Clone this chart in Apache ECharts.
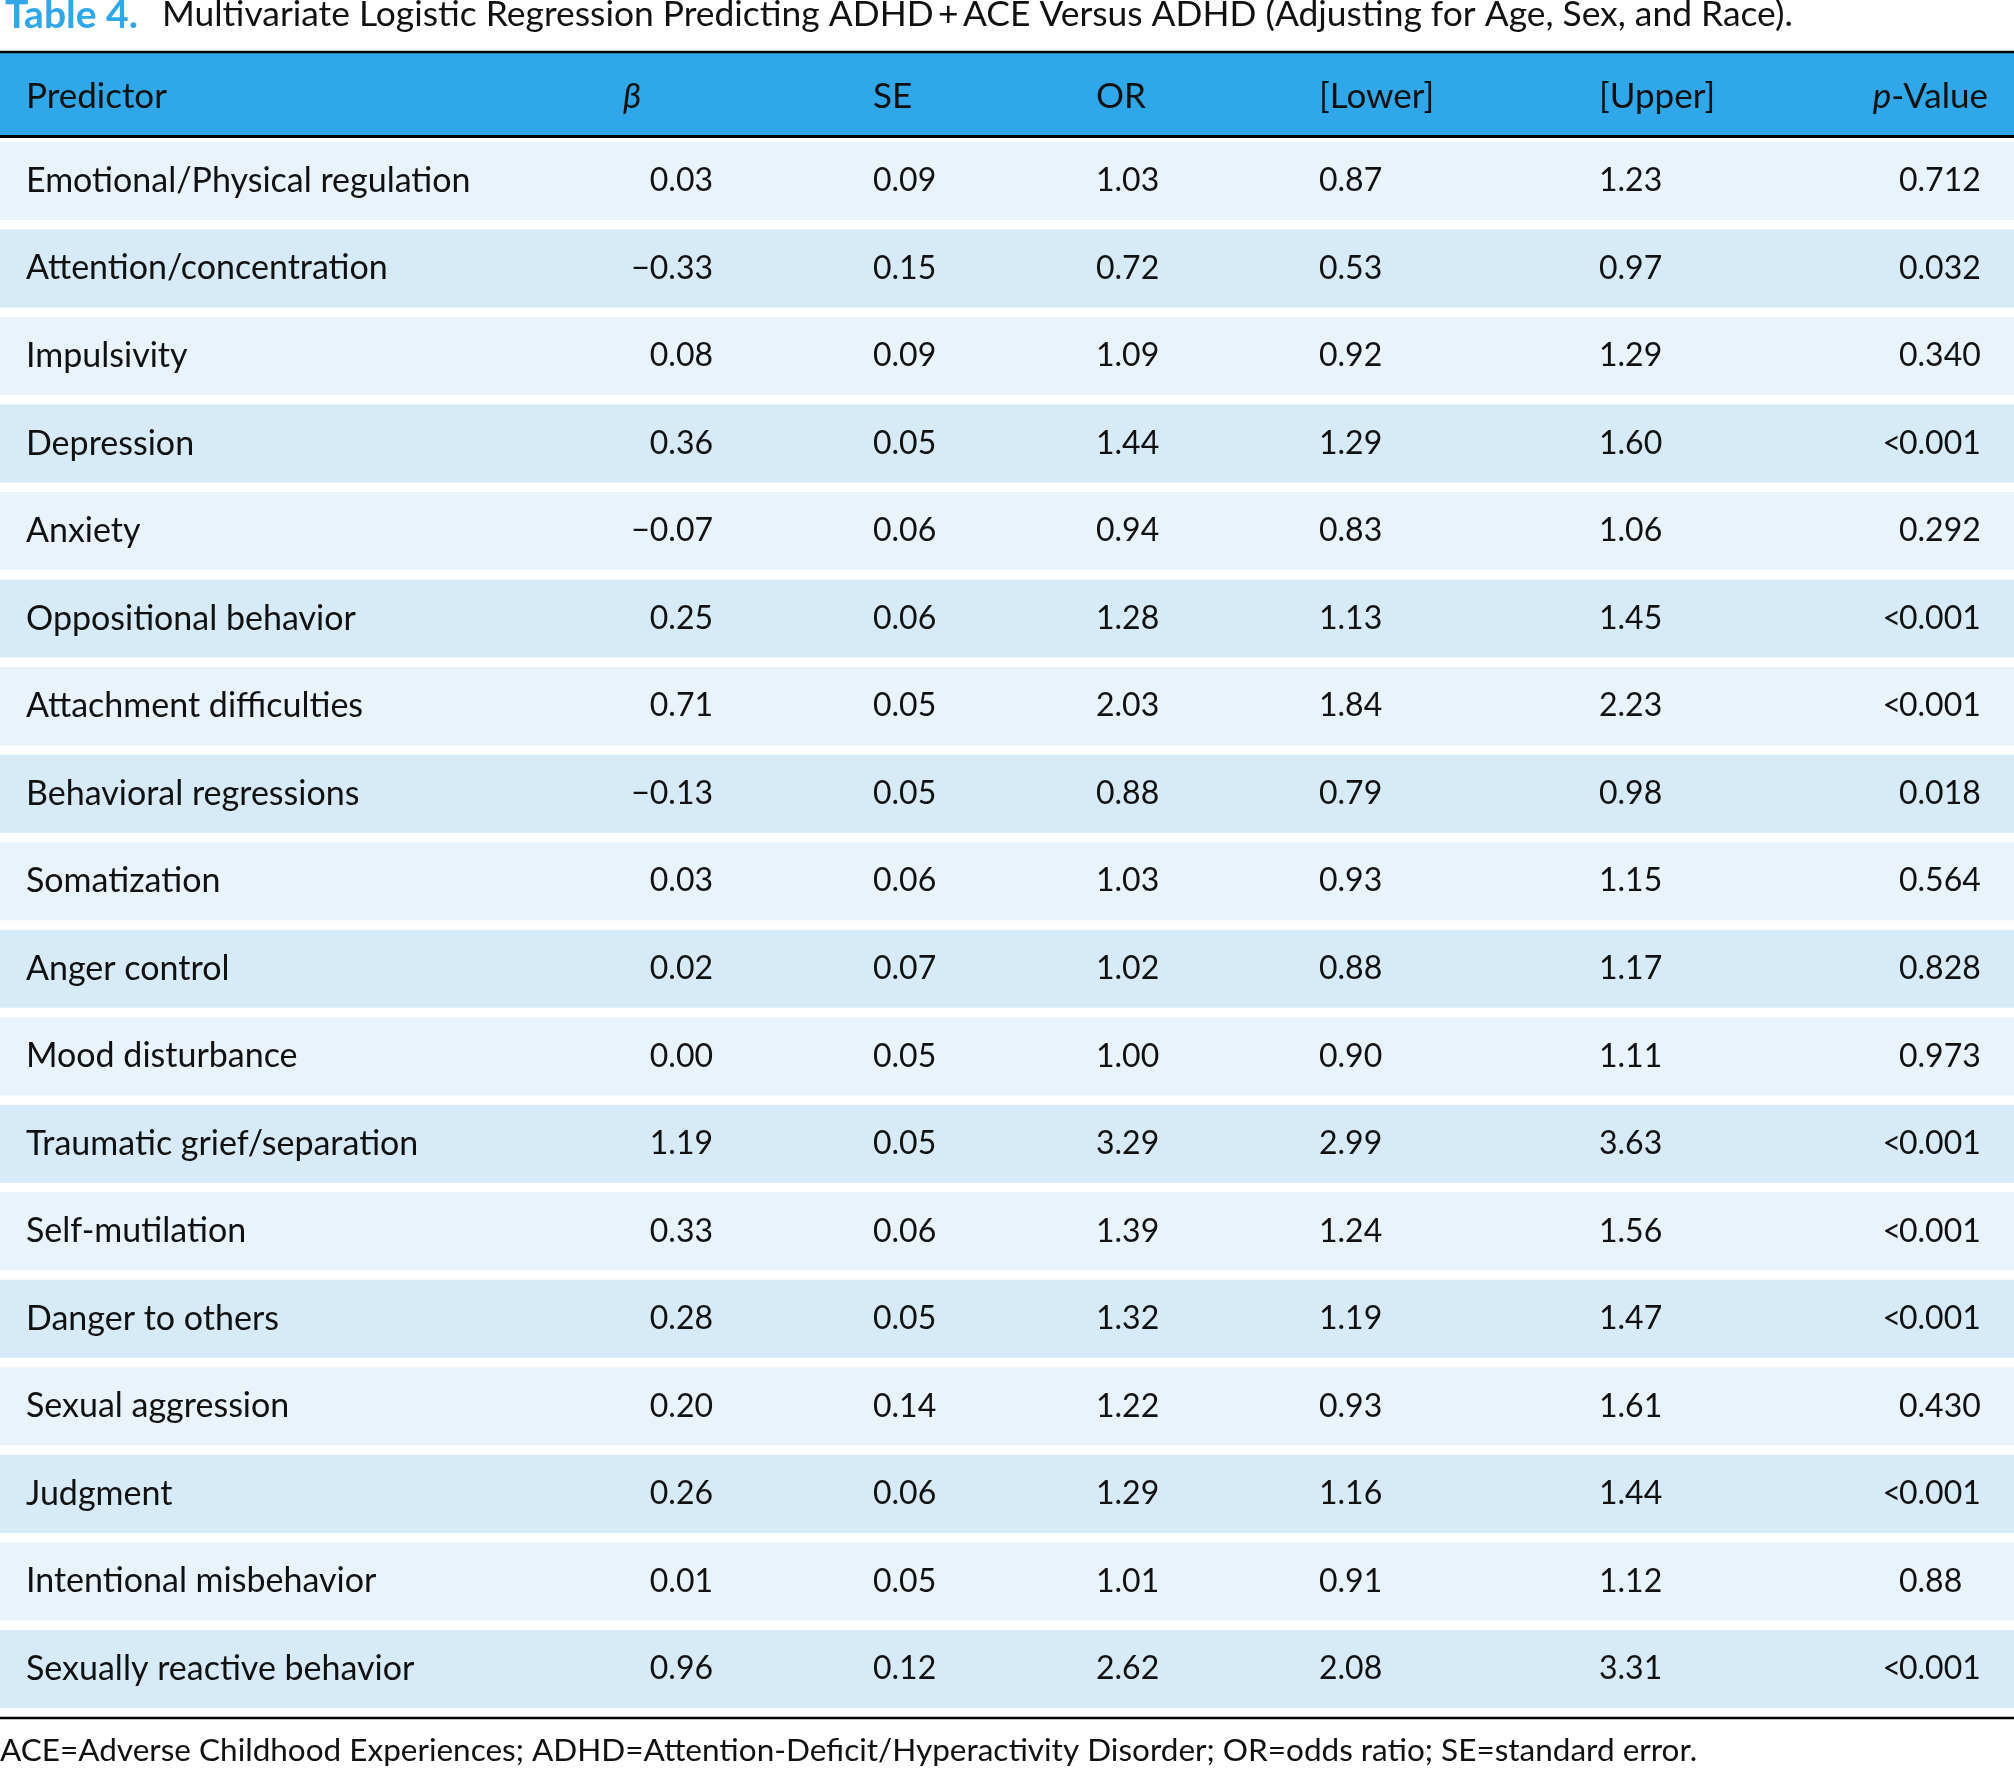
<!DOCTYPE html>
<html>
<head>
<meta charset="utf-8">
<title>Table 4</title>
<script src="https://cdn.jsdelivr.net/npm/echarts@6/dist/echarts.min.js"></script>
<style>
html,body{margin:0;padding:0;background:#fff;}
#main{width:2014px;height:1771px;}
</style>
</head>
<body>
<div id="main"></div>
<script>
// rows of the table
var predictors=["Emotional/Physical regulation","Attention/concentration","Impulsivity","Depression","Anxiety",
    "Oppositional behavior","Attachment difficulties","Behavioral regressions","Somatization","Anger control",
    "Mood disturbance","Traumatic grief/separation","Self-mutilation","Danger to others","Sexual aggression",
    "Judgment","Intentional misbehavior","Sexually reactive behavior"];
var beta=[0.03,-0.33,0.08,0.36,-0.07,0.25,0.71,-0.13,0.03,0.02,0.00,1.19,0.33,0.28,0.20,0.26,0.01,0.96];
var se=[0.09,0.15,0.09,0.05,0.06,0.06,0.05,0.05,0.06,0.07,0.05,0.05,0.06,0.05,0.14,0.06,0.05,0.12];
var oddsRatio=[1.03,0.72,1.09,1.44,0.94,1.28,2.03,0.88,1.03,1.02,1.00,3.29,1.39,1.32,1.22,1.29,1.01,2.62];
var lower=[0.87,0.53,0.92,1.29,0.83,1.13,1.84,0.79,0.93,0.88,0.90,2.99,1.24,1.19,0.93,1.16,0.91,2.08];
var upper=[1.23,0.97,1.29,1.60,1.06,1.45,2.23,0.98,1.15,1.17,1.11,3.63,1.56,1.47,1.61,1.44,1.12,3.31];
var pValue=["0.712","0.032","0.340","<0.001","0.292","<0.001","<0.001","0.018","0.564","0.828",
    "0.973","<0.001","<0.001","<0.001","0.430","<0.001","0.88","<0.001"];
var headers=["Predictor","β","SE","OR","[Lower]","[Upper]","p-Value"];

var titleLabel="Table 4.";
var titleText="Multivariate Logistic Regression Predicting ADHD\u2009+\u2009ACE Versus ADHD (Adjusting for Age, Sex, and Race).";
var footnote="ACE=Adverse Childhood Experiences; ADHD=Attention-Deficit/Hyperactivity Disorder; OR=odds ratio; SE=standard error.";

// layout
var FONT="Lato";
var FS=32;       // numbers
var FS_WORD=34;  // predictor names
var FS_HEAD=35;
var INK="#111";
var BLUE="#2FA7E9";
var ROW_A="#E8F3FC", ROW_B="#D6EAF7";
var colX={pred:26,beta:713,se:873,or:1096,lower:1319,upper:1599,p:1899};

function fmt(v){
    var s=v.toFixed(2);
    return v<0 ? "\u2212"+s.slice(1) : s;
}
function txt(x,y,s,align,size,extra){
    var st={x:x,y:y,text:s,fill:INK,font:(size||FS)+"px "+FONT,textAlign:align||"left",textVerticalAlign:"middle"};
    if(extra) for(var k in extra) st[k]=extra[k];
    return {type:"text",style:st};
}

var chart=echarts.init(document.getElementById("main"),null,{renderer:"canvas"});

var option={
    backgroundColor:"#fff",
    animation:false,
    grid:{left:0,right:0,top:137.2,height:1575.5},
    xAxis:{type:"value",min:0,max:2014,show:false},
    yAxis:{type:"category",data:predictors,inverse:true,show:false},
    series:[{
        type:"custom",
        data:predictors.map(function(p,i){return [0,i];}),
        renderItem:function(params,api){
            var i=api.value(1);
            var c=api.coord([0,i]);
            var pitch=api.size([0,1])[1];
            var h=pitch-9.5;
            var y=c[1];
            var kids=[{
                type:"rect",
                shape:{x:0,y:y-h/2,width:2014,height:h},
                style:{fill:i%2===0?ROW_A:ROW_B}
            }];
            kids.push(txt(colX.pred,y,predictors[i],"left",FS_WORD));
            kids.push(txt(colX.beta,y,fmt(beta[i]),"right"));
            kids.push(txt(colX.se,y,fmt(se[i])));
            kids.push(txt(colX.or,y,fmt(oddsRatio[i])));
            kids.push(txt(colX.lower,y,fmt(lower[i])));
            kids.push(txt(colX.upper,y,fmt(upper[i])));
            var p=pValue[i];
            if(p.charAt(0)==="<"){
                kids.push(txt(colX.p+2,y,"<","right"));
                p=p.slice(1);
            }
            kids.push(txt(colX.p,y,p));
            return {type:"group",children:kids};
        }
    }],
    graphic:[
        // title
        txt(5,15,titleLabel,"left",39,{fill:BLUE,font:"bold 39px "+FONT}),
        txt(162,15,titleText,"left",35.4),
        // header band
        {type:"rect",shape:{x:0,y:52,width:2014,height:84},style:{fill:BLUE}},
        {type:"line",shape:{x1:0,y1:52,x2:2014,y2:52},style:{stroke:"#000",lineWidth:2.5}},
        {type:"line",shape:{x1:0,y1:136.5,x2:2014,y2:136.5},style:{stroke:"#000",lineWidth:3}},
        txt(26,97,headers[0],"left",FS_HEAD),
        txt(632,97,headers[1],"center",FS_HEAD,{font:"italic "+FS_HEAD+"px "+FONT}),
        txt(873,97,headers[2],"left",FS_HEAD),
        txt(1096,97,headers[3],"left",FS_HEAD),
        txt(1319,97,headers[4],"left",FS_HEAD),
        txt(1599,97,headers[5],"left",FS_HEAD),
        {type:"text",style:{x:1988,y:97,text:"{i|p}-Value",fill:INK,font:FS_HEAD+"px "+FONT,
            textAlign:"right",textVerticalAlign:"middle",
            rich:{i:{fontStyle:"italic",fontFamily:FONT,fontSize:FS_HEAD,fill:INK}}}},
        // bottom rule and note
        {type:"line",shape:{x1:0,y1:1718,x2:2014,y2:1718},style:{stroke:"#000",lineWidth:2.5}},
        txt(0,1751,footnote,"left",31.5)
    ]
};
chart.setOption(option);
</script>
</body>
</html>
